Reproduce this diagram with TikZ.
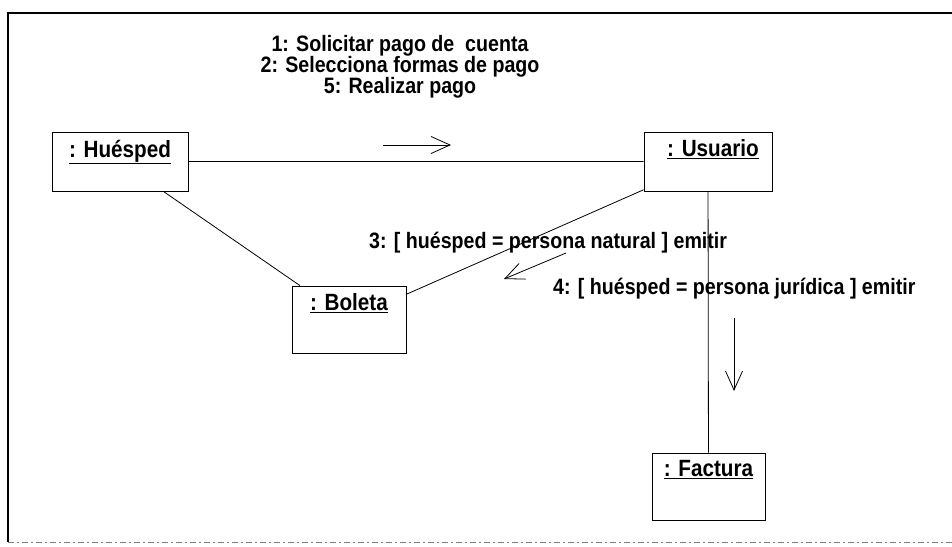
\documentclass[tikz,border=0pt]{standalone}
\usepackage{fontspec}
\setmainfont{Liberation Sans}
\newfontfamily\narrowsans[FakeStretch=0.88]{Liberation Sans}
\usetikzlibrary{arrows.meta}
\begin{document}
\begin{tikzpicture}[x=1pt,y=-1pt,
  obj/.style={draw,line width=0.8pt,inner sep=0pt},
  objname/.style={anchor=north,inner sep=0pt,font=\narrowsans\fontsize{23.5}{24}\selectfont\bfseries},
  msg/.style={inner sep=0pt,font=\narrowsans\fontsize{22.3}{21}\selectfont\bfseries},
  flow/.style={-{Straight Barb[length=19pt,width=17pt]},line width=0.8pt}]
\useasboundingbox (0,0) rectangle (952,546);
\draw[line width=2pt] (952,13) -- (8,13) -- (8,542);
\draw[line width=1pt,gray,dash pattern=on 6pt off 3pt on 2pt off 3pt] (8,542) -- (952,542);
\node[obj,minimum width=136pt,minimum height=59pt] (hue) at (120,161.5) {};
\node[obj,minimum width=128pt,minimum height=59pt] (usu) at (708,161.5) {};
\node[obj,minimum width=114pt,minimum height=67pt] (bol) at (349,319.5) {};
\node[obj,minimum width=113pt,minimum height=67pt] (fac) at (708.5,486.5) {};
\node[objname] (huet) at ([yshift=-8pt]hue.north) {\underline{: Huésped}};
\node[objname] (usut) at ([yshift=-8pt,xshift=5pt]usu.north) {\underline{: Usuario}};
\node[objname] (bolt) at ([yshift=-8pt]bol.north) {\underline{: Boleta}};
\node[objname] (fact) at ([yshift=-8pt]fac.north) {\underline{: Factura}};
\draw[line width=0.8pt] (hue)--(usu) (hue)--(bol) (bol)--(usu) (usu)--(fac);
\coordinate (m1a) at (383,145);
\coordinate (m1b) at (451,145);
\coordinate (m3a) at (566,253);
\coordinate (m3b) at (504,279);
\coordinate (m4a) at (734,318);
\coordinate (m4b) at (734,391);
\draw[flow] (m1a)--(m1b);
\draw[flow] (m3a)--(m3b);
\draw[flow] (m4a)--(m4b);
\node[msg,align=center] (l1) at (400,67) {1: Solicitar pago de \ cuenta\\2: Selecciona formas de pago\\5: Realizar pago};
\node[msg,anchor=west] (l3) at (369,243) {3: [ huésped = persona natural ] emitir};
\node[msg,anchor=west] (l4) at (553,289) {4: [ huésped = persona jurídica ] emitir};
\end{tikzpicture}
\end{document}
